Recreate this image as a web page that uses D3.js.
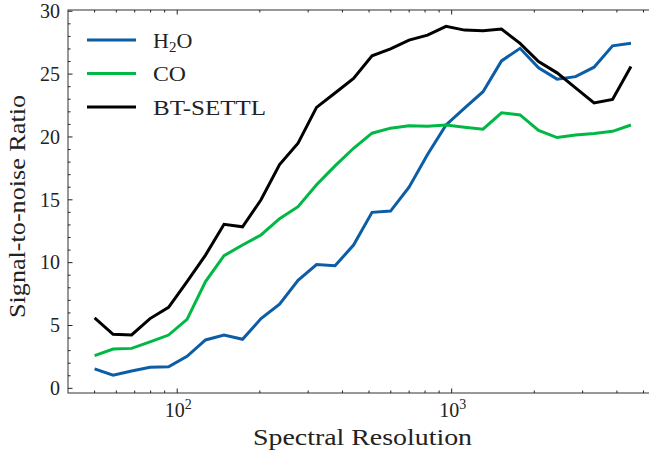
<!DOCTYPE html>
<html>
<head>
<meta charset="utf-8">
<script src="https://cdn.jsdelivr.net/npm/d3@7"></script>
<style>
  body { margin: 0; background: #fff; }
</style>
</head>
<body>
<div id="chart"></div>
<script>
// spectral resolution grid
const resolution = [50, 58.4, 68.2, 79.6, 93.0, 108.6, 126.8, 148.1, 173.0, 202.0,
  236.0, 275.6, 321.8, 375.9, 439.0, 512.7, 598.8, 699.3, 816.7, 953.8,
  1114, 1301, 1519, 1775, 2073, 2421, 2827, 3302, 3856, 4500]

const h2o = [1.55, 1.05, 1.38, 1.67, 1.72, 2.55, 3.85, 4.25, 3.9, 5.55,
  6.7, 8.6, 9.85, 9.75, 11.4, 14.0, 14.1, 16.0, 18.6, 20.95,
  22.3, 23.6, 26.05, 27.05, 25.5, 24.6, 24.8, 25.55, 27.25, 27.45]

const co = [2.6, 3.13, 3.18, 3.7, 4.24, 5.49, 8.49, 10.55, 11.4, 12.2,
  13.5, 14.45, 16.2, 17.7, 19.1, 20.3, 20.7, 20.9, 20.85, 20.95,
  20.78, 20.62, 21.92, 21.75, 20.52, 19.95, 20.15, 20.28, 20.45, 20.95]

const btSettl = [5.6, 4.3, 4.25, 5.55, 6.45, 8.5, 10.6, 13.05, 12.85, 15.0,
  17.8, 19.5, 22.35, 23.5, 24.65, 26.45, 27.0, 27.7, 28.1, 28.8,
  28.5, 28.45, 28.58, 27.45, 26.0, 25.1, 23.9, 22.7, 22.98, 25.6]

const seriesNames = ['H2O', 'CO', 'BT-SETTL']
const seriesColors = ['#0C5DA5', '#00B945', '#000000']
const yTicks = [0, 5, 10, 15, 20, 25, 30]

const width = 649, height = 452
const margin = { top: 10, left: 68, right: -1, bottom: 59 }
const serif = "'Liberation Serif', 'DejaVu Serif', 'Times New Roman', serif"

const svg = d3.select('#chart').append('svg')
  .attr('width', width).attr('height', height)
  .attr('font-family', serif)

const x = d3.scaleLog().domain([40, 5280]).range([margin.left, width - margin.right])
const y = d3.scaleLinear().domain([-0.37, 30.1]).range([height - margin.bottom, margin.top])

const x0 = margin.left, x1 = width - margin.right
const y0 = height - margin.bottom, y1 = margin.top

// clip for lines
svg.append('clipPath').attr('id', 'clip')
  .append('rect').attr('x', x0).attr('y', y1).attr('width', x1 - x0).attr('height', y0 - y1)

const line = d3.line()
  .x((d, i) => x(resolution[i]))
  .y(d => y(d))

const allSeries = [h2o, co, btSettl]
const gLines = svg.append('g').attr('clip-path', 'url(#clip)')
allSeries.forEach((s, k) => {
  gLines.append('path')
    .datum(s)
    .attr('fill', 'none')
    .attr('stroke', seriesColors[k])
    .attr('stroke-width', 3)
    .attr('d', line)
})

// spines
svg.append('rect')
  .attr('x', x0).attr('y', y1).attr('width', x1 - x0).attr('height', y0 - y1)
  .attr('fill', 'none').attr('stroke', '#444').attr('stroke-width', 1.1)

// ticks, inward on all sides
const ticks = svg.append('g').attr('stroke', '#222').attr('stroke-width', 1)
const majorLen = 4.5, minorLen = 2.5

const xMajor = [100, 1000]
const xMinor = []
for (const dec of [10, 100, 1000]) {
  for (let m = 2; m <= 9; m++) {
    const v = m * dec
    if (v > 40 && v < 5280) xMinor.push(v)
  }
}
xMajor.forEach(v => {
  ticks.append('line').attr('x1', x(v)).attr('x2', x(v)).attr('y1', y0).attr('y2', y0 - majorLen)
  ticks.append('line').attr('x1', x(v)).attr('x2', x(v)).attr('y1', y1).attr('y2', y1 + majorLen)
})
xMinor.forEach(v => {
  ticks.append('line').attr('x1', x(v)).attr('x2', x(v)).attr('y1', y0).attr('y2', y0 - minorLen)
  ticks.append('line').attr('x1', x(v)).attr('x2', x(v)).attr('y1', y1).attr('y2', y1 + minorLen)
})

yTicks.forEach(v => {
  ticks.append('line').attr('x1', x0).attr('x2', x0 + majorLen).attr('y1', y(v)).attr('y2', y(v))
})
for (let v = 0; v <= 30; v++) {
  if (v % 5 === 0) continue
  ticks.append('line').attr('x1', x0).attr('x2', x0 + minorLen).attr('y1', y(v)).attr('y2', y(v))
}

// y tick labels
svg.append('g').selectAll('text').data(yTicks).join('text')
  .attr('x', x0 - 8)
  .attr('y', d => y(d))
  .attr('dy', '0.34em')
  .attr('text-anchor', 'end')
  .attr('font-size', 20)
  .attr('fill', '#222')
  .text(d => d)

// x tick labels 10^n
xMajor.forEach(v => {
  const t = svg.append('text')
    .attr('x', x(v) + 1)
    .attr('y', y0 + 24)
    .attr('text-anchor', 'middle')
    .attr('font-size', 20)
    .attr('fill', '#222')
  t.append('tspan').text('10')
  t.append('tspan').attr('font-size', 14).attr('dy', -8).text(Math.round(Math.log10(v)))
})

// axis labels
svg.append('text')
  .attr('x', 253)
  .attr('y', 445)
  .attr('font-size', 24)
  .attr('fill', '#222')
  .attr('textLength', 219)
  .attr('lengthAdjust', 'spacingAndGlyphs')
  .text('Spectral Resolution')

svg.append('text')
  .attr('transform', 'translate(25, 318) rotate(-90)')
  .attr('font-size', 24)
  .attr('fill', '#222')
  .attr('textLength', 223)
  .attr('lengthAdjust', 'spacingAndGlyphs')
  .text('Signal-to-noise Ratio')

// legend
const legendY = [40, 73.5, 107]
const legendWidth = [42, 33, 113]
seriesNames.forEach((name, k) => {
  svg.append('line')
    .attr('x1', 87).attr('x2', 136)
    .attr('y1', legendY[k]).attr('y2', legendY[k])
    .attr('stroke', seriesColors[k]).attr('stroke-width', 3)
  const t = svg.append('text')
    .attr('x', 153).attr('y', legendY[k]).attr('dy', '0.35em')
    .attr('font-size', 22)
    .attr('fill', '#222')
  if (name === 'H2O') {
    t.append('tspan').text('H')
    t.append('tspan').attr('font-size', 15).attr('dy', 4).text('2')
    t.append('tspan').attr('dy', -4).text('O')
  } else {
    t.attr('textLength', legendWidth[k]).attr('lengthAdjust', 'spacingAndGlyphs').text(name)
  }
})
</script>
</body>
</html>
